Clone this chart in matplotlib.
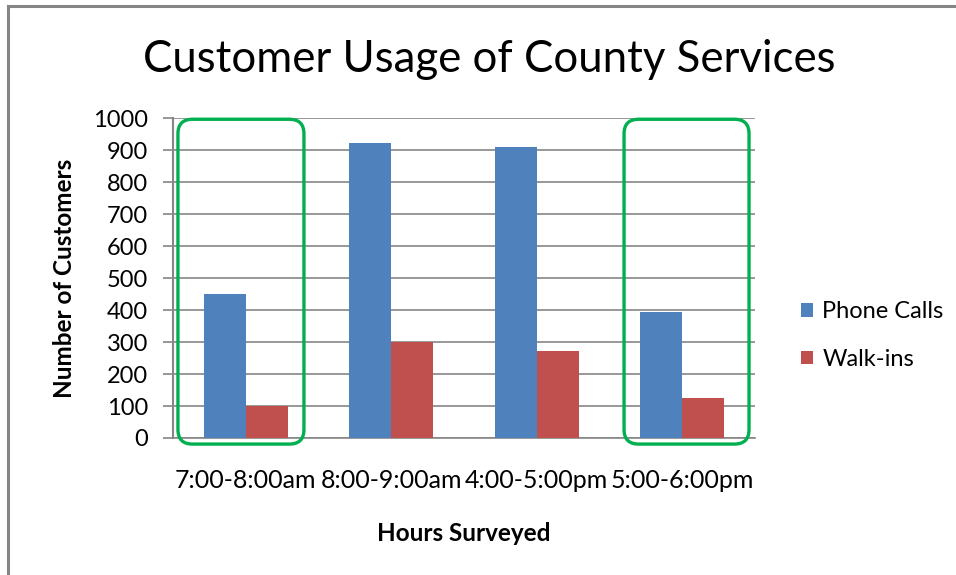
import matplotlib
matplotlib.use("Agg")
import matplotlib.pyplot as plt
from matplotlib.patches import FancyBboxPatch
from matplotlib.lines import Line2D
import numpy as np

categories = ["7:00-8:00am", "8:00-9:00am", "4:00-5:00pm", "5:00-6:00pm"]
phone_calls = [450, 924, 910, 394]
walk_ins = [100, 300, 273, 126]
highlighted = [0, 3]
yticks = [0, 100, 200, 300, 400, 500, 600, 700, 800, 900, 1000]

plt.rcParams['font.family'] = ['Lato', 'DejaVu Sans']

W, H = 956, 575
fig = plt.figure(figsize=(W / 100, H / 100), dpi=100)
ax = fig.add_axes([173 / W, 1 - 438 / H, (755 - 173) / W, (438 - 118.3) / H])

x = np.arange(len(categories))
bw = 0.29
ax.bar(x - bw / 2, phone_calls, bw, color="#4F81BD", label="Phone Calls", zorder=3)
ax.bar(x + bw / 2, walk_ins, bw, color="#C0504D", label="Walk-ins", zorder=3)

ax.set_xlim(-0.5, len(categories) - 0.5)
ax.set_ylim(0, 1000)
ax.set_yticks(yticks)
ax.set_yticklabels([str(v) for v in yticks], fontsize=17)
ax.set_xticks(x)
ax.set_xticklabels(categories, fontsize=18)
ax.tick_params(axis='x', length=0, pad=22)
ax.tick_params(axis='y', length=7, color="#868686", width=1.2, pad=11)
ax.grid(axis='y', color="#868686", linewidth=1.2, zorder=0)
for s in ["top", "right"]:
    ax.spines[s].set_visible(False)
ax.spines["left"].set_color("#868686")
ax.spines["left"].set_linewidth(1.5)
ax.spines["bottom"].set_color("#868686")
ax.spines["bottom"].set_linewidth(1.2)

ax.set_ylabel("Number of Customers", fontsize=17.5, fontweight="bold", labelpad=12)
ax.set_xlabel("Hours Surveyed", fontsize=17.5, fontweight="bold", labelpad=22)
fig.text(0.5 * (145 + 833) / W, 1 - 59 / H, "Customer Usage of County Services",
         fontsize=31.5, ha="center", va="center")

# highlight boxes (rounded) around groups
px_x = (len(categories)) / (755 - 173)
px_y = 1000 / (438 - 118.3)
aspect = px_y / px_x
for i in highlighted:
    x0 = i - 0.466
    x1 = i + 0.40
    if i == len(categories) - 1:
        x0 = i - 0.40
        x1 = i + 0.459
    y0 = -19
    y1 = 997
    box = FancyBboxPatch((x0, y0), x1 - x0, y1 - y0,
                         boxstyle="round,pad=0,rounding_size=0.1",
                         mutation_aspect=aspect,
                         fill=False, edgecolor="#00B050", linewidth=2.4,
                         zorder=4, clip_on=False)
    ax.add_patch(box)

leg = fig.legend(loc="upper left", bbox_to_anchor=(780 / W, 1 - 280 / H),
                 frameon=False, fontsize=17, handlelength=0.5, handleheight=0.5,
                 handletextpad=0.4, labelspacing=1.13)

# outer frame (top and left)
fig.add_artist(Line2D([8 / W, 1], [1 - 6 / H, 1 - 6 / H], color="#868686", linewidth=2.2))
fig.add_artist(Line2D([8 / W, 8 / W], [0, 1 - 6 / H], color="#868686", linewidth=2.2))

fig.savefig("out.png", dpi=100)
